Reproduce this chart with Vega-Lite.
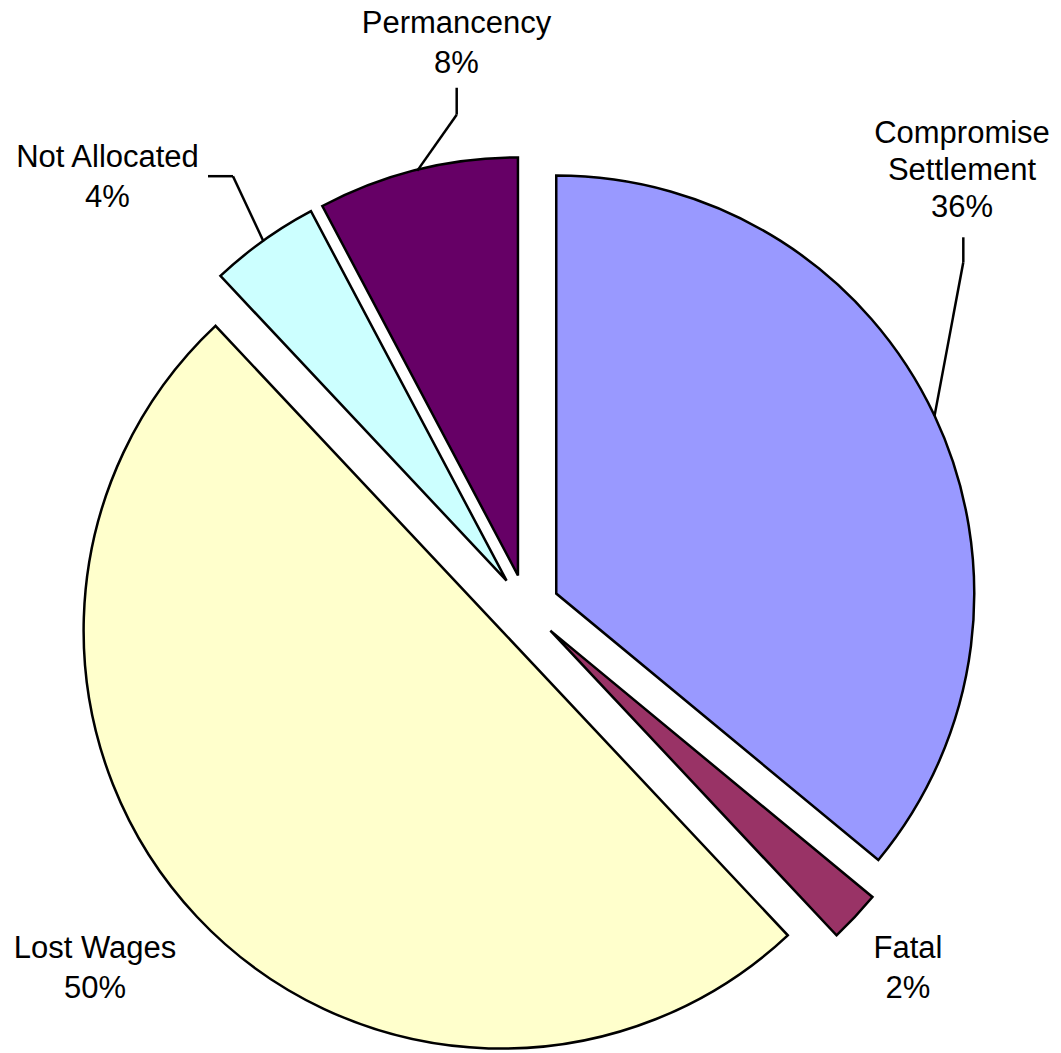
{
  "$schema": "https://vega.github.io/schema/vega-lite/v6.json",
  "width": 1061,
  "height": 1053,
  "autosize": {"type": "fit", "contains": "padding"},
  "padding": 0,
  "background": "white",
  "config": {"view": {"stroke": null}, "text": {"font": "Liberation Sans", "color": "black"}},
  "data": {
    "values": [
      {"cat": "Compromise Settlement", "pct": 36},
      {"cat": "Fatal", "pct": 2},
      {"cat": "Lost Wages", "pct": 50},
      {"cat": "Not Allocated", "pct": 4.25},
      {"cat": "Permancency", "pct": 7.75}
    ]
  },
  "transform": [
    {"stack": "pct", "groupby": [], "as": ["start", "end"]},
    {"calculate": "(datum.start + datum.end) * PI / 100", "as": "mid"},
    {"calculate": "0.08 * sin(datum.mid)", "as": "dx"},
    {"calculate": "0.08 * cos(datum.mid)", "as": "dy"},
    {"calculate": "format(datum.pct, '.0f') + '%'", "as": "pctLabel"},
    {"calculate": "replace(datum.cat, 'Compromise ', 'Compromise\\n') + '\\n' + datum.pctLabel", "as": "label"}
  ],
  "layer": [
    {
      "mark": {"type": "arc", "outerRadius": 418, "stroke": "black", "strokeWidth": 2.5},
      "encoding": {
        "theta": {"field": "start", "type": "quantitative", "scale": {"domain": [0, 100], "range": [0, 6.283185307179586]}},
        "theta2": {"field": "end"},
        "x": {"field": "dx", "type": "quantitative", "stack": null, "axis": null, "scale": {"domain": [-1.25837, 1.2799], "nice": false, "zero": false}},
        "y": {"field": "dy", "type": "quantitative", "stack": null, "axis": null, "scale": {"domain": [-1.061, 1.45813], "nice": false, "zero": false}},
        "color": {
          "field": "cat", "type": "nominal", "legend": null,
          "scale": {
            "domain": ["Compromise Settlement", "Fatal", "Lost Wages", "Not Allocated", "Permancency"],
            "range": ["#9999FF", "#993366", "#FFFFCC", "#CCFFFF", "#660066"]
          }
        }
      }
    },
    {
      "transform": [{"filter": "datum.cat === 'Permancency'"}],
      "mark": {"type": "rule", "stroke": "black", "strokeWidth": 2.5},
      "encoding": {
        "x": {"datum": -0.1658, "type": "quantitative", "axis": null, "scale": {"domain": [-1.25837, 1.2799], "nice": false, "zero": false}},
        "y": {"datum": 1.2476, "type": "quantitative", "axis": null, "scale": {"domain": [-1.061, 1.45813], "nice": false, "zero": false}},
        "x2": {"datum": -0.1658},
        "y2": {"datum": 1.183}
      }
    },
    {
      "transform": [{"filter": "datum.cat === 'Permancency'"}],
      "mark": {"type": "rule", "stroke": "black", "strokeWidth": 2.5},
      "encoding": {
        "x": {"datum": -0.1658, "type": "quantitative", "axis": null, "scale": {"domain": [-1.25837, 1.2799], "nice": false, "zero": false}},
        "y": {"datum": 1.183, "type": "quantitative", "axis": null, "scale": {"domain": [-1.061, 1.45813], "nice": false, "zero": false}},
        "x2": {"datum": -0.2604},
        "y2": {"datum": 1.0481}
      }
    },
    {
      "transform": [{"filter": "datum.cat === 'Not Allocated'"}],
      "mark": {"type": "rule", "stroke": "black", "strokeWidth": 2.5},
      "encoding": {
        "x": {"datum": -0.7608, "type": "quantitative", "axis": null, "scale": {"domain": [-1.25837, 1.2799], "nice": false, "zero": false}},
        "y": {"datum": 1.0354, "type": "quantitative", "axis": null, "scale": {"domain": [-1.061, 1.45813], "nice": false, "zero": false}},
        "x2": {"datum": -0.701},
        "y2": {"datum": 1.0354}
      }
    },
    {
      "transform": [{"filter": "datum.cat === 'Not Allocated'"}],
      "mark": {"type": "rule", "stroke": "black", "strokeWidth": 2.5},
      "encoding": {
        "x": {"datum": -0.701, "type": "quantitative", "axis": null, "scale": {"domain": [-1.25837, 1.2799], "nice": false, "zero": false}},
        "y": {"datum": 1.0354, "type": "quantitative", "axis": null, "scale": {"domain": [-1.061, 1.45813], "nice": false, "zero": false}},
        "x2": {"datum": -0.6279},
        "y2": {"datum": 0.8787}
      }
    },
    {
      "transform": [{"filter": "datum.cat === 'Compromise Settlement'"}],
      "mark": {"type": "rule", "stroke": "black", "strokeWidth": 2.5},
      "encoding": {
        "x": {"datum": 1.0462, "type": "quantitative", "axis": null, "scale": {"domain": [-1.25837, 1.2799], "nice": false, "zero": false}},
        "y": {"datum": 0.8888, "type": "quantitative", "axis": null, "scale": {"domain": [-1.061, 1.45813], "nice": false, "zero": false}},
        "x2": {"datum": 1.0462},
        "y2": {"datum": 0.8289}
      }
    },
    {
      "transform": [{"filter": "datum.cat === 'Compromise Settlement'"}],
      "mark": {"type": "rule", "stroke": "black", "strokeWidth": 2.5},
      "encoding": {
        "x": {"datum": 1.0462, "type": "quantitative", "axis": null, "scale": {"domain": [-1.25837, 1.2799], "nice": false, "zero": false}},
        "y": {"datum": 0.8289, "type": "quantitative", "axis": null, "scale": {"domain": [-1.061, 1.45813], "nice": false, "zero": false}},
        "x2": {"datum": 0.9772},
        "y2": {"datum": 0.4598}
      }
    },
    {
      "transform": [{"filter": "datum.cat === 'Permancency'"}],
      "mark": {"type": "text", "fontSize": 31, "lineHeight": 40, "baseline": "middle", "align": "center", "lineBreak": "\n"},
      "encoding": {
        "x": {"datum": -0.1663, "type": "quantitative", "axis": null, "scale": {"domain": [-1.25837, 1.2799], "nice": false, "zero": false}},
        "y": {"datum": 1.4007, "type": "quantitative", "axis": null, "scale": {"domain": [-1.061, 1.45813], "nice": false, "zero": false}},
        "text": {"field": "label"}
      }
    },
    {
      "transform": [{"filter": "datum.cat === 'Not Allocated'"}],
      "mark": {"type": "text", "fontSize": 31, "lineHeight": 40, "baseline": "middle", "align": "center", "lineBreak": "\n"},
      "encoding": {
        "x": {"datum": -1.0012, "type": "quantitative", "axis": null, "scale": {"domain": [-1.25837, 1.2799], "nice": false, "zero": false}},
        "y": {"datum": 1.0801, "type": "quantitative", "axis": null, "scale": {"domain": [-1.061, 1.45813], "nice": false, "zero": false}},
        "text": {"field": "label"}
      }
    },
    {
      "transform": [{"filter": "datum.cat === 'Compromise Settlement'"}],
      "mark": {"type": "text", "fontSize": 31, "lineHeight": 37, "baseline": "middle", "align": "center", "lineBreak": "\n"},
      "encoding": {
        "x": {"datum": 1.0431, "type": "quantitative", "axis": null, "scale": {"domain": [-1.25837, 1.2799], "nice": false, "zero": false}},
        "y": {"datum": 1.1376, "type": "quantitative", "axis": null, "scale": {"domain": [-1.061, 1.45813], "nice": false, "zero": false}},
        "text": {"field": "label"}
      }
    },
    {
      "transform": [{"filter": "datum.cat === 'Fatal'"}],
      "mark": {"type": "text", "fontSize": 31, "lineHeight": 40, "baseline": "middle", "align": "center", "lineBreak": "\n"},
      "encoding": {
        "x": {"datum": 0.9139, "type": "quantitative", "axis": null, "scale": {"domain": [-1.25837, 1.2799], "nice": false, "zero": false}},
        "y": {"datum": -0.8194, "type": "quantitative", "axis": null, "scale": {"domain": [-1.061, 1.45813], "nice": false, "zero": false}},
        "text": {"field": "label"}
      }
    },
    {
      "transform": [{"filter": "datum.cat === 'Lost Wages'"}],
      "mark": {"type": "text", "fontSize": 31, "lineHeight": 40, "baseline": "middle", "align": "center", "lineBreak": "\n"},
      "encoding": {
        "x": {"datum": -1.0311, "type": "quantitative", "axis": null, "scale": {"domain": [-1.25837, 1.2799], "nice": false, "zero": false}},
        "y": {"datum": -0.8194, "type": "quantitative", "axis": null, "scale": {"domain": [-1.061, 1.45813], "nice": false, "zero": false}},
        "text": {"field": "label"}
      }
    }
  ]
}
